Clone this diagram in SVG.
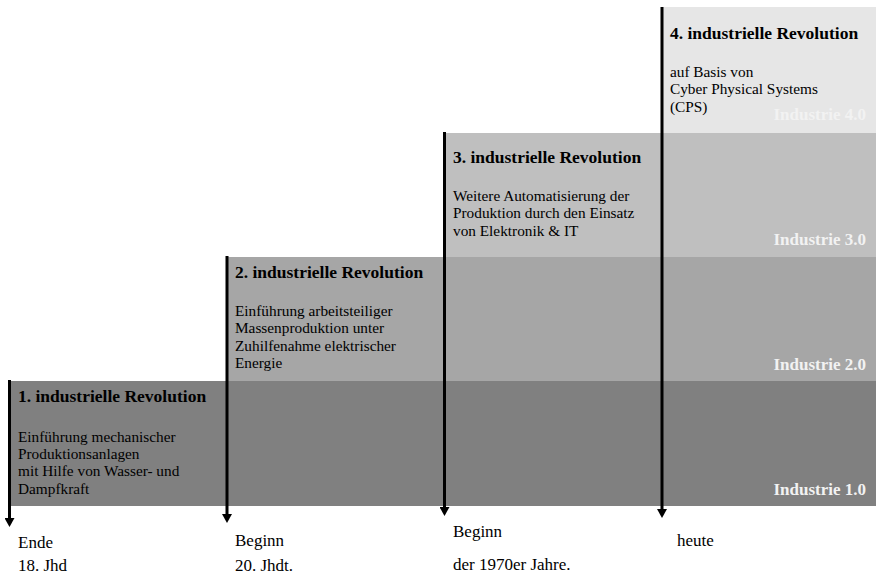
<svg xmlns="http://www.w3.org/2000/svg" width="876" height="577" viewBox="0 0 876 577">
<style>
text{font-family:"Liberation Serif","Times New Roman",serif;fill:#000}
.t{font-size:17.5px;font-weight:bold}
.b{font-size:15.3px}
.d{font-size:17px}
.lab{font-size:17px;font-weight:bold;fill:#f2f2f2;text-anchor:end}
.ax{stroke:#000;stroke-width:3;fill:none}
</style>
<defs>
<marker id="ah" viewBox="0 0 9 10" refX="2" refY="5" markerWidth="9" markerHeight="10" markerUnits="userSpaceOnUse" orient="auto">
<path d="M0,0 L9,5 L0,10 Z" fill="#000"/>
</marker>
</defs>
<g id="band4"><rect x="662" y="7" width="214" height="126" fill="#e6e6e6"/><text class="lab" x="866" y="120">Industrie 4.0</text></g>
<g id="band3"><rect x="444" y="133" width="432" height="124" fill="#bfbfbf"/><text class="lab" x="866" y="245">Industrie 3.0</text></g>
<g id="band2"><rect x="227" y="257" width="649" height="124" fill="#a6a6a6"/><text class="lab" x="866" y="370">Industrie 2.0</text></g>
<g id="band1"><rect x="9" y="381" width="867" height="125" fill="#808080"/><text class="lab" x="866" y="495">Industrie 1.0</text></g>
<g id="rev1">
<text class="t" x="18" y="402">1. industrielle Revolution</text>
<text class="b" x="18" y="442">Einführung mechanischer</text>
<text class="b" x="18" y="459">Produktionsanlagen</text>
<text class="b" x="18" y="476">mit Hilfe von Wasser- und</text>
<text class="b" x="18" y="494">Dampfkraft</text>
</g>
<g id="rev2">
<text class="t" x="235" y="278">2. industrielle Revolution</text>
<text class="b" x="235" y="316">Einführung arbeitsteiliger</text>
<text class="b" x="235" y="333">Massenproduktion unter</text>
<text class="b" x="235" y="351">Zuhilfenahme elektrischer</text>
<text class="b" x="235" y="368">Energie</text>
</g>
<g id="rev3">
<text class="t" x="453" y="163">3. industrielle Revolution</text>
<text class="b" x="453" y="201">Weitere Automatisierung der</text>
<text class="b" x="453" y="218">Produktion durch den Einsatz</text>
<text class="b" x="453" y="236">von Elektronik &amp; IT</text>
</g>
<g id="rev4">
<text class="t" x="670" y="39">4. industrielle Revolution</text>
<text class="b" x="670" y="77">auf Basis von</text>
<text class="b" x="670" y="94">Cyber Physical Systems</text>
<text class="b" x="670" y="112">(CPS)</text>
</g>
<g id="connectors">
<line class="ax" x1="9.5" y1="380" x2="9.5" y2="520" marker-end="url(#ah)"/>
<line class="ax" x1="227" y1="256" x2="227" y2="516" marker-end="url(#ah)"/>
<line class="ax" x1="444.5" y1="132" x2="444.5" y2="509" marker-end="url(#ah)"/>
<line class="ax" x1="662" y1="7" x2="662" y2="511" marker-end="url(#ah)"/>
</g>
<g id="dates">
<text class="d" x="18" y="548">Ende</text>
<text class="d" x="18" y="571">18. Jhd</text>
<text class="d" x="235" y="546">Beginn</text>
<text class="d" x="235" y="571">20. Jhdt.</text>
<text class="d" x="453" y="537">Beginn</text>
<text class="d" x="453" y="570">der 1970er Jahre.</text>
<text class="d" x="677" y="546">heute</text>
</g>
</svg>
